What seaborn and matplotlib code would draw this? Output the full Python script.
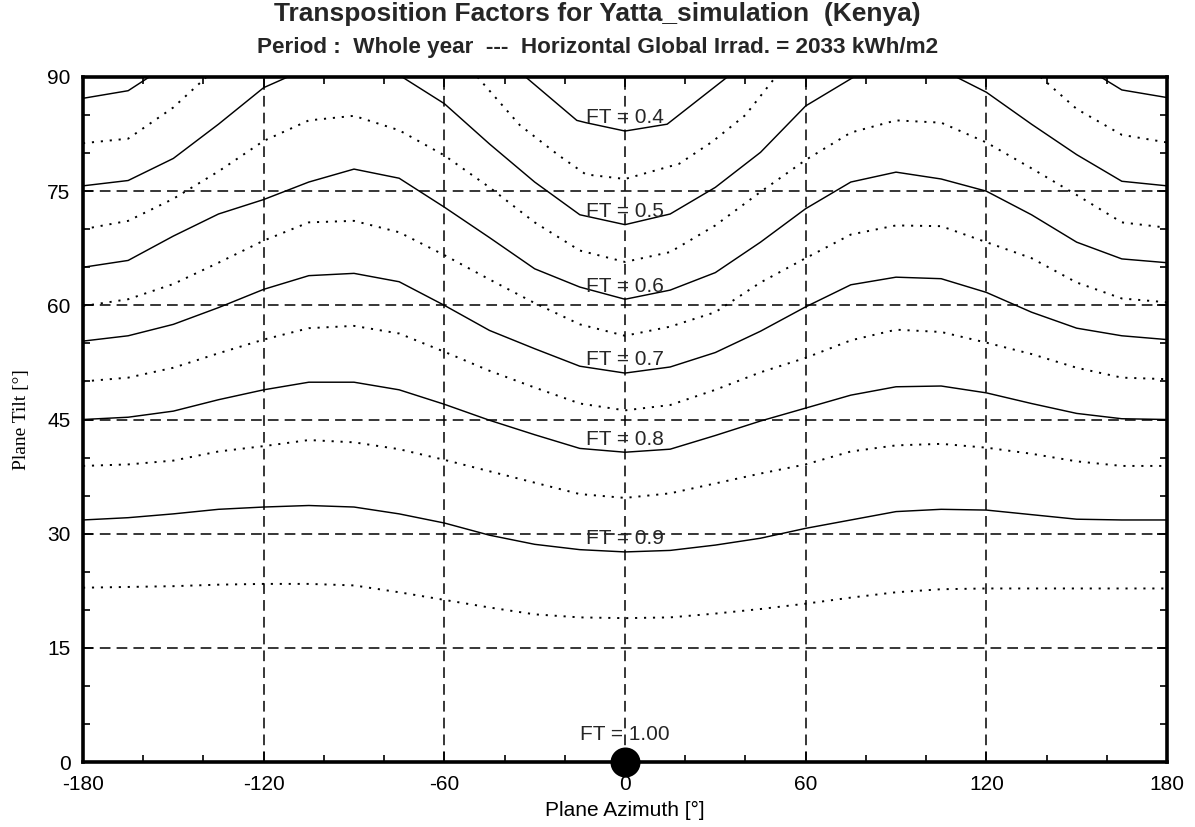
import matplotlib
matplotlib.use("Agg")
import matplotlib.pyplot as plt
from matplotlib.ticker import MultipleLocator
import pandas as pd
import seaborn as sns

# Plane azimuth sampling [deg] for the full-width iso-FT curves
AZIMUTH = [-180, -165, -150, -135, -120, -105, -90, -75, -60, -45, -30, -15,
           0, 15, 30, 45, 60, 75, 90, 105, 120, 135, 150, 165, 180]

# Plane tilt [deg] giving a constant transposition factor, per azimuth
FT_095 = [22.9, 23.0, 23.1, 23.3, 23.4, 23.4, 23.2, 22.3, 21.3, 20.3, 19.4, 19.0,
          18.9, 19.0, 19.5, 20.1, 20.8, 21.6, 22.3, 22.7, 22.8, 22.8, 22.8, 22.8, 22.8]
FT_090 = [31.8, 32.1, 32.6, 33.2, 33.5, 33.7, 33.5, 32.6, 31.4, 29.8, 28.6, 27.9,
          27.6, 27.8, 28.5, 29.4, 30.7, 31.8, 32.9, 33.2, 33.1, 32.5, 31.9, 31.8, 31.8]
FT_085 = [38.9, 39.1, 39.6, 40.8, 41.5, 42.3, 42.0, 41.1, 39.7, 38.2, 36.7, 35.2,
          34.7, 35.3, 36.6, 37.9, 39.1, 40.8, 41.6, 41.8, 41.3, 40.5, 39.5, 38.9, 38.9]
FT_080 = [45.0, 45.3, 46.1, 47.6, 48.9, 49.9, 49.9, 48.9, 47.0, 44.9, 43.0, 41.2,
          40.7, 41.1, 42.9, 44.8, 46.5, 48.2, 49.3, 49.4, 48.5, 47.1, 45.8, 45.1, 45.0]
FT_075 = [50.0, 50.5, 51.8, 53.7, 55.5, 57.0, 57.3, 56.3, 53.9, 51.4, 49.2, 47.1,
          46.2, 46.9, 48.9, 51.2, 53.1, 55.4, 56.8, 56.5, 55.1, 53.6, 51.8, 50.5, 50.3]
FT_070 = [55.3, 56.0, 57.5, 59.7, 62.1, 63.9, 64.2, 63.1, 60.0, 56.7, 54.3, 52.0,
          51.1, 51.9, 53.8, 56.6, 59.8, 62.7, 63.7, 63.5, 61.7, 59.1, 57.0, 56.0, 55.5]
FT_065 = [59.9, 60.8, 62.8, 65.6, 68.5, 70.9, 71.1, 69.6, 66.6, 63.4, 60.3, 57.5,
          56.0, 57.2, 59.1, 63.0, 66.2, 69.3, 70.5, 70.4, 68.3, 66.2, 63.0, 60.9, 60.4]
FT_060 = [65.0, 65.9, 69.1, 72.0, 73.9, 76.2, 77.9, 76.7, 72.9, 68.9, 64.8, 62.4,
          60.8, 62.0, 64.3, 68.3, 72.7, 76.2, 77.5, 76.6, 75.0, 71.9, 68.3, 66.1, 65.6]
FT_055 = [70.0, 71.1, 74.0, 77.6, 81.6, 84.3, 84.9, 83.0, 79.7, 75.5, 70.9, 67.2,
          65.7, 67.0, 70.5, 74.9, 79.1, 82.7, 84.3, 84.0, 81.4, 78.0, 74.5, 70.9, 70.2]

# Upper curves leave the 90 deg limit, so they come in separate pieces
FT_050_WEST_AZ = [-180, -165, -150, -135, -120, -112]
FT_050_WEST = [75.7, 76.4, 79.3, 83.8, 88.6, 90.0]
FT_050_SOUTH_AZ = [-74, -68, -60, -45, -30, -15, 0, 15, 30, 45, 60, 68, 76]
FT_050_SOUTH = [90.0, 88.5, 86.5, 81.2, 76.2, 71.9, 70.6, 72.0, 75.5, 80.1, 86.2, 88.1, 90.0]
FT_050_EAST_AZ = [110, 120, 135, 150, 165, 180]
FT_050_EAST = [90.0, 88.0, 83.8, 79.8, 76.3, 75.7]

FT_045_WEST_AZ = [-180, -165, -150, -139]
FT_045_WEST = [81.3, 81.9, 86.0, 90.0]
FT_045_SOUTH_AZ = [-49, -35, -22, -13, 0, 18, 29, 40, 50]
FT_045_SOUTH = [90.0, 83.7, 79.7, 77.2, 76.6, 78.6, 81.5, 85.0, 90.0]
FT_045_EAST_AZ = [138, 150, 165, 180]
FT_045_EAST = [90.0, 85.8, 82.4, 81.4]

FT_040_WEST_AZ = [-180, -165, -158]
FT_040_WEST = [87.2, 88.2, 90.0]
FT_040_SOUTH_AZ = [-33, -16, -13, 0, 14, 34]
FT_040_SOUTH = [90.0, 84.3, 84.0, 82.9, 83.8, 90.0]
FT_040_EAST_AZ = [158, 165, 180]
FT_040_EAST = [90.0, 88.3, 87.3]

# Optimum orientation
OPT_AZ = [0]
OPT_TILT = [0]
OPT_FT = 1.00

LABELLED = [0.4, 0.5, 0.6, 0.7, 0.8, 0.9]

rows = []
def add(level, seg, az, tilt):
    for a, t in zip(az, tilt):
        rows.append({"level": level, "seg": seg, "az": a, "tilt": t})

for lvl, vals in [(0.95, FT_095), (0.90, FT_090), (0.85, FT_085), (0.80, FT_080),
                  (0.75, FT_075), (0.70, FT_070), (0.65, FT_065), (0.60, FT_060),
                  (0.55, FT_055)]:
    add(lvl, 0, AZIMUTH, vals)
add(0.50, 0, FT_050_WEST_AZ, FT_050_WEST)
add(0.50, 1, FT_050_SOUTH_AZ, FT_050_SOUTH)
add(0.50, 2, FT_050_EAST_AZ, FT_050_EAST)
add(0.45, 0, FT_045_WEST_AZ, FT_045_WEST)
add(0.45, 1, FT_045_SOUTH_AZ, FT_045_SOUTH)
add(0.45, 2, FT_045_EAST_AZ, FT_045_EAST)
add(0.40, 0, FT_040_WEST_AZ, FT_040_WEST)
add(0.40, 1, FT_040_SOUTH_AZ, FT_040_SOUTH)
add(0.40, 2, FT_040_EAST_AZ, FT_040_EAST)
iso = pd.DataFrame(rows)

sns.set_style("white")
plt.rcParams["font.family"] = ["Liberation Sans", "DejaVu Sans"]
plt.rcParams["axes.unicode_minus"] = False

fig = plt.figure(figsize=(11.95, 8.27), dpi=100)
ax = fig.add_axes([83 / 1195, 65 / 827, 1084 / 1195, 685 / 827])

grid_dash = (0, (7, 4))
ax.set_xlim(-180, 180)
ax.set_ylim(0, 90)
ax.set_xticks(range(-180, 181, 60))
ax.set_yticks(range(0, 91, 15))
ax.xaxis.set_minor_locator(MultipleLocator(20))
ax.yaxis.set_minor_locator(MultipleLocator(5))
ax.grid(True, which="major", color="black", linestyle=grid_dash, linewidth=1.1)

for lvl, sub in iso.groupby("level"):
    whole_step = round(lvl * 100) % 10 == 0
    sns.lineplot(data=sub, x="az", y="tilt", units="seg", estimator=None,
                 sort=False, color="black", ax=ax, legend=False,
                 linewidth=1.05 if whole_step else 1.4,
                 linestyle="-" if whole_step else (0, (1.1, 3.5)))
    if any(abs(lvl - l) < 1e-6 for l in LABELLED):
        seg = sub[sub["az"] == 0]
        ax.text(0, float(seg["tilt"].iloc[0]) + 1.0, f"FT = {lvl:.1f}",
                ha="center", va="baseline", fontsize=15, zorder=6)

sns.scatterplot(x=OPT_AZ, y=OPT_TILT, s=400, color="black", ax=ax,
                clip_on=False, zorder=7, legend=False, edgecolor="black")
ax.text(OPT_AZ[0], OPT_TILT[0] + 2.9, f"FT = {OPT_FT:.2f}", ha="center",
        va="baseline", fontsize=15, zorder=6)

for sp in ax.spines.values():
    sp.set_linewidth(2.6)
    sp.set_color("black")
ax.tick_params(which="both", direction="in", bottom=True, left=True,
               top=True, right=True, colors="black", width=1.2)
ax.tick_params(which="major", length=7, labelsize=15, pad=9)
ax.tick_params(which="minor", length=5)

ax.set_xlabel("Plane Azimuth [°]", fontsize=15, color="black")
ax.xaxis.set_label_coords(0.5, -0.057)
ax.set_ylabel("Plane Tilt [°]", fontsize=14, color="black",
              family=["Liberation Serif", "DejaVu Serif"])
ax.yaxis.set_label_coords(-0.049, 0.5)

fig.text(0.5, 1 - 14 / 827, "Transposition Factors for Yatta_simulation  (Kenya)",
         ha="center", va="center", fontsize=19, fontweight="bold")
fig.text(0.5, 1 - 47 / 827,
         "Period :  Whole year  ---  Horizontal Global Irrad. = 2033 kWh/m2",
         ha="center", va="center", fontsize=16.2, fontweight="bold")

fig.savefig("out.png", dpi=100, facecolor="white")
